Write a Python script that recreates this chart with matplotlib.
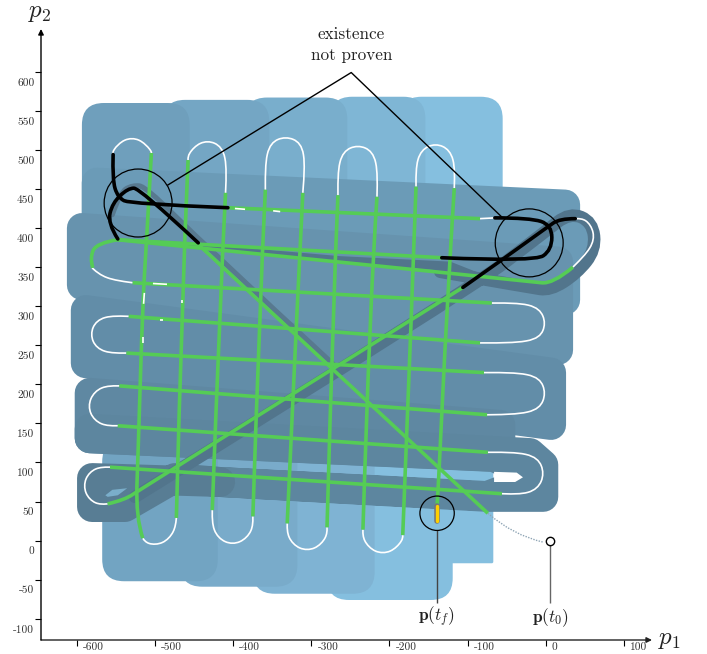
import matplotlib
matplotlib.use("Agg")
import matplotlib.pyplot as plt
import numpy as np
from matplotlib.patches import Circle, FancyBboxPatch, PathPatch, Polygon
from matplotlib.path import Path
from matplotlib.transforms import ScaledTranslation

plt.rcParams["mathtext.fontset"] = "cm"
plt.rcParams["axes.unicode_minus"] = False

x_ticks = [-600, -500, -400, -300, -200, -100, 0, 100]
y_ticks = [-100, -50, 0, 50, 100, 150, 200, 250, 300, 350, 400, 450, 500, 550, 600]

# reachable tube, vertical sweeps (left, right, lower edge, upper edge)
tube_top = [
    (-187, -55, 308, 568),
    (-276, -154, 308, 568),
    (-385, -254, 308, 567),
    (-490, -354, 308, 564),
    (-594, -456, 308, 560),
]
tube_bottom = [
    (-187, -67, -29, 129),
    (-280, -119, -76, 129),
    (-375, -219, -68, 129),
    (-468, -318, -59, 129),
    (-568, -420, -52, 129),
]

# reachable tube, horizontal sweeps
band_a = [(-575, 458), (25, 430), (25, 308), (-575, 308)]
band_b = [(-594, 400), (16, 357), (16, 244), (-594, 327)]
band_c = [(-589, 295), (7, 215), (7, 148), (-589, 227)]
band_d = [(-584, 189), (-58, 148), (-58, 107), (-584, 131)]
band_e = [(-584, 143), (-20, 112), (-3, 97), (-3, 56), (-75, 56), (-417, 75),
          (-75, 57), (-11, 81), (-66, 107), (-584, 131)]
band_f = [(-581, 80), (-417, 75), (-475, 80), (-539, 43), (-581, 43)]
tube_hole = [(-564, 58), (-555, 65), (-536, 67), (-548, 58), (-561, 56)]
tube_notch = [(-66, 88), (-37, 87), (-29, 81), (-39, 75), (-66, 75)]
tube_wedge = [(-494, 384), (-263, 364), (-122, 357), (-84, 342), (-263, 355), (-494, 380)]
ring_inside = [(18, 413), (52, 402), (56, 372), (36, 347), (8, 334)]
tube_diagonal = [(-526, 56), (-102, 318), (-1, 395), (31, 420), (60, 408), (64, 372),
                 (40, 342), (6, 320), (-20, 324), (-135, 344)]
tube_shadow = [(-555, 417), (-545, 446), (-529, 455), (-512, 453), (-440, 381), (-270, 224)]

# green: proven part of the trajectory
green_start = [(-445, 379), (-74, 35)]
green_row1 = [(-407, 426), (-84, 412)]
green_row2a = [(-548, 385), (-133, 362)]
green_row2b = [(-548, 385), (-20, 332), (9, 328), (35, 350)]
green_loop = [(-548, 385), (-575, 381), (-584, 362), (-580, 349)]
green_row3 = [(-529, 330), (-69, 304)]
green_row4 = [(-534, 287), (-84, 253)]
green_row5 = [(-537, 240), (-79, 215)]
green_row6 = [(-546, 198), (-75, 161)]
green_row7 = [(-548, 147), (-74, 113)]
green_row8 = [(-558, 94), (-56, 60)]
green_diagonal = [(-561, 47), (-539, 52), (-519, 66), (-106, 324)]
green_col1 = [(-505, 496), (-511, 385), (-516, 308), (-522, 112), (-525, 30), (-516, 3)]
green_col2 = [(-473, 29), (-466, 308), (-458, 487)]
green_col3 = [(-410, 445), (-417, 308), (-427, 39)]
green_col4 = [(-375, 31), (-366, 308), (-359, 449)]
green_col5 = [(-311, 445), (-318, 308), (-331, 22)]
green_col6 = [(-280, 17), (-272, 308), (-266, 442)]
green_col7 = [(-216, 440), (-225, 308), (-234, 14)]
green_col8 = [(-183, 7), (-171, 308), (-166, 453)]
green_col9 = [(-117, 451), (-126, 308), (-138, 56), (-139, 44)]

# white: turns between the lanes
white_row1 = [(-84, 412), (-65, 413)]
white_left1 = [(-581, 349), (-565, 335), (-529, 330)]
white_right1 = [(-69, 304), (-16, 304), (-1, 288), (-1, 268), (-16, 253), (-84, 253)]
white_left2 = [(-534, 287), (-567, 288), (-582, 274), (-582, 254), (-567, 240), (-537, 240)]
white_right2 = [(-79, 215), (-16, 215), (-1, 199), (-1, 178), (-16, 162), (-75, 161)]
white_left3 = [(-546, 198), (-570, 198), (-585, 182), (-585, 162), (-570, 147), (-548, 147)]
white_right3 = [(-74, 113), (-19, 113), (-3, 97), (-3, 75), (-19, 59), (-56, 60)]
white_left4 = [(-558, 94), (-577, 94), (-591, 80), (-591, 60), (-577, 46), (-561, 47)]
white_corner = [(38, 412), (52, 412), (63, 395), (60, 375), (35, 350)]
white_top1 = [(-554, 494), (-555, 499), (-540, 515), (-520, 515), (-505, 499), (-505, 496)]
white_top2 = [(-458, 487), (-458, 495), (-443, 511), (-423, 511), (-408, 495), (-410, 445)]
white_top3 = [(-359, 449), (-359, 500), (-344, 516), (-322, 516), (-307, 500), (-311, 445)]
white_top4 = [(-266, 442), (-266, 489), (-251, 505), (-230, 505), (-215, 489), (-216, 440)]
white_top5 = [(-166, 453), (-166, 491), (-151, 507), (-131, 507), (-116, 491), (-117, 451)]
white_bottom1 = [(-516, 3), (-510, -5), (-490, -5), (-475, 11), (-473, 29)]
white_bottom2 = [(-427, 39), (-427, 12), (-411, -4), (-391, -4), (-375, 12), (-375, 31)]
white_bottom3 = [(-331, 22), (-331, 4), (-316, -12), (-295, -12), (-280, 4), (-280, 17)]
white_bottom4 = [(-234, 14), (-234, 0), (-219, -16), (-198, -16), (-183, 0), (-183, 7)]
white_gaps = [
    [(-398, 425), (-385, 424)],
    [(-349, 422), (-340, 421)],
    [(-503, 329), (-485, 328)],
    [(-514, 317), (-515, 303)],
    [(-466, 308), (-466, 304)],
    [(-494, 282), (-490, 282)],
    [(-516, 260), (-516, 253)],
]

# black: part where existence is not proven
black_a = [(-554, 494), (-555, 462), (-548, 439), (-532, 431), (-407, 426)]
black_b = [(-548, 386), (-561, 406), (-555, 432), (-535, 451), (-520, 451), (-445, 381)]
black_c = [(-65, 413), (-20, 413), (8, 404), (8, 372), (-14, 357), (-133, 362)]
black_d = [(-106, 324), (-59, 357), (2, 401), (18, 412), (38, 412)]

dotted_start = [(-74, 35), (-42, 7), (-3, -2)]
p_t0 = (6, 0)
p_tf = (-139, 35)
rocket = [(-139, 44), (-139, 25)]
stem_t0 = [(6, -5), (6, -80)]
stem_tf = [(-139, 13), (-139, -80)]

circle_left = (-522, 432)
circle_right = (-21, 381)
note_p1 = [-484, -249, -56]
note_p2 = [455, 599, 414]


def smooth(points):
    # quadratic spline through the midpoints, ends stay on the first/last point
    pts = np.array(points, dtype=float)
    if len(pts) == 2:
        return Path(pts)
    verts = [pts[0]]
    codes = [Path.MOVETO]
    for i in range(1, len(pts) - 1):
        end = pts[i + 1] if i == len(pts) - 2 else (pts[i] + pts[i + 1]) / 2
        verts += [pts[i], end]
        codes += [Path.CURVE3, Path.CURVE3]
    return Path(verts, codes)


def smooth_round(points):
    # cubic b-spline with clamped ends, rounder for the u-turns
    pts = np.array(points, dtype=float)
    if len(pts) == 2:
        return Path(pts)
    pts = np.vstack([pts[0], pts[0], pts, pts[-1], pts[-1]])
    verts = [pts[0]]
    codes = [Path.MOVETO]
    for a, b, c, d in zip(pts[:-3], pts[1:-2], pts[2:-1], pts[3:]):
        verts += [(2 * b + c) / 3, (b + 2 * c) / 3, (b + 4 * c + d) / 6]
        codes += [Path.CURVE4] * 3
    return Path(verts, codes)


def stroke(ax, points, color, lw, z, round_turns=False, **kw):
    path = smooth_round(points) if round_turns else smooth(points)
    ax.add_patch(PathPatch(path, fill=False, ec=color, lw=lw, zorder=z,
                           capstyle=kw.pop("capstyle", "butt"), **kw))


fig = plt.figure(figsize=(7.07, 6.54), dpi=100)
ax = fig.add_axes([41 / 707, 14 / 654, 611 / 707, 611 / 654])
ax.set_xlim(-646.4, 136.3)
ax.set_ylim(-127.2, 654.7)
ax.patch.set_visible(False)

# tube, painted light to dark
top_colors = ["#85bfdf", "#7fb6d5", "#79aecc", "#74a6c4", "#6f9fbc"]
for (left, right, low, high), c in zip(tube_top, top_colors):
    ax.add_patch(FancyBboxPatch((left, low), right - left, high - low, fc=c, ec="none",
                                boxstyle="round,pad=0,rounding_size=28", zorder=1))
bottom_colors = ["#85bfdf", "#85bfdf", "#7fb3d3", "#79abca", "#72a4c2"]
bottom_round = [2, 28, 28, 28, 28]
for (left, right, low, high), c, r in zip(tube_bottom, bottom_colors, bottom_round):
    ax.add_patch(FancyBboxPatch((left, low), right - left, high - low, fc=c, ec="none",
                                boxstyle=f"round,pad=0,rounding_size={r}", zorder=1))

ax.add_patch(Polygon(ring_inside, closed=True, fc="#6b9bb7", ec="#6b9bb7", lw=5, zorder=2))
bands = [band_a, band_b, band_c, band_d, band_e, band_f]
band_colors = ["#6b9bb7", "#6793ae", "#628da8", "#5f88a2", "#5d869f", "#587d94"]
for band, c in zip(bands, band_colors):
    ax.add_patch(Polygon(band, closed=True, fc=c, ec=c, lw=21.6, joinstyle="round", zorder=2))
ax.add_patch(Polygon(tube_notch, closed=True, fc="white", ec="none", zorder=3))
ax.add_patch(Polygon(tube_hole, closed=True, fc="#7aaeca", ec="none", zorder=3))
ax.add_patch(Polygon(tube_wedge, closed=True, fc="#52758c", ec="none", zorder=3))
stroke(ax, tube_diagonal, "#52758c", 9, 3, capstyle="round")
stroke(ax, tube_shadow, "#58798f", 3.6, 3, capstyle="round")

whites = [white_row1, white_left1, white_right1, white_left2, white_right2, white_left3,
          white_right3, white_left4, white_corner, white_top1, white_top2, white_top3,
          white_top4, white_top5, white_bottom1, white_bottom2, white_bottom3, white_bottom4]
for line in whites:
    stroke(ax, line, "white", 1.2, 5, round_turns=True)

greens = [green_start, green_row1, green_row2a, green_row2b, green_loop, green_row3,
          green_row4, green_row5, green_row6, green_row7, green_row8, green_diagonal,
          green_col1, green_col2, green_col3, green_col4, green_col5, green_col6,
          green_col7, green_col8, green_col9]
for line in greens:
    stroke(ax, line, "#55cc55", 2.6, 6)
for line in white_gaps:
    stroke(ax, line, "white", 1.2, 6.5)
for line in [black_a, black_b, black_c, black_d]:
    stroke(ax, line, "black", 2.6, 7, capstyle="round")

# start and end of the trajectory
stroke(ax, dotted_start, "#8fa5b5", 1, 5, linestyle=(0, (1, 1)))
stroke(ax, stem_t0, "#666666", 1, 8)
stroke(ax, stem_tf, "#444444", 1, 8)
stroke(ax, rocket, "#777777", 4, 8, capstyle="round")
stroke(ax, rocket, "#ffd000", 2.4, 8.5, capstyle="round")
ax.plot(*p_t0, "o", ms=6, mfc="white", mec="black", mew=1, zorder=9)
ax.add_patch(Circle(p_tf, 22, fill=False, ec="black", lw=0.9, zorder=8))
ax.add_patch(Circle(circle_left, 43.5, fill=False, ec="black", lw=0.9, zorder=8))
ax.add_patch(Circle(circle_right, 43.5, fill=False, ec="black", lw=0.9, zorder=8))
ax.plot(note_p1, note_p2, color="black", lw=1, zorder=8, clip_on=False)

text_kw = dict(color="#222222", ha="center", va="center", clip_on=False)
ax.text(-249, 648, "existence", family="cmr10", fontsize=12.3, **text_kw)
ax.text(-249, 621, "not proven", family="cmr10", fontsize=12.3, **text_kw)
ax.text(-140, -98, r"$\mathbf{p}(t_f)$", fontsize=12.5, **text_kw)
ax.text(6, -98, r"$\mathbf{p}(t_0)$", fontsize=12.5, **text_kw)
ax.text(159, -126, r"$p_1$", fontsize=18, **text_kw)
ax.text(-648, 676, r"$p_2$", fontsize=18, **text_kw)

# axes as arrows, tick labels sit away from their ticks
for side in ["top", "right", "left", "bottom"]:
    ax.spines[side].set_visible(False)
ax.annotate("", xy=(1, 0), xytext=(0, 0), xycoords="axes fraction",
            arrowprops=dict(arrowstyle="-|>", lw=1, color="#222222", shrinkA=0, shrinkB=0,
                            mutation_scale=8))
ax.annotate("", xy=(0, 1), xytext=(0, 0), xycoords="axes fraction",
            arrowprops=dict(arrowstyle="-|>", lw=1, color="black", shrinkA=0, shrinkB=0,
                            mutation_scale=8))
ax.set_xticks(x_ticks)
ax.set_xticklabels([str(v) for v in x_ticks], family="cmr10", fontsize=8.2, color="#333333", ha="left")
ax.set_yticks(y_ticks)
ax.set_yticklabels([str(v) for v in y_ticks], family="cmr10", fontsize=8.2, color="#333333")
ax.tick_params(axis="x", length=4.3, width=0.8, pad=0)
ax.tick_params(axis="y", length=4.3, width=0.8, pad=0.5)
for label in ax.get_xticklabels():
    label.set_transform(label.get_transform() + ScaledTranslation(6 / 100, 3 / 100, fig.dpi_scale_trans))
for label in ax.get_yticklabels():
    label.set_transform(label.get_transform() + ScaledTranslation(0, -10 / 100, fig.dpi_scale_trans))

fig.savefig("out.png", dpi=100)
